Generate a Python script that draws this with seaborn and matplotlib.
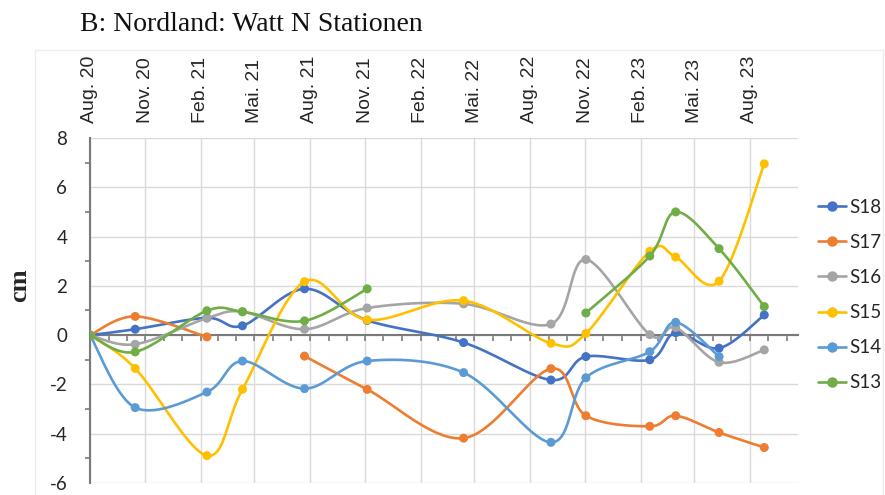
import numpy as np
import pandas as pd
import matplotlib
matplotlib.use("Agg")
import matplotlib.pyplot as plt
import matplotlib.dates as mdates
from matplotlib.lines import Line2D
from matplotlib.patches import Rectangle
from matplotlib.ticker import MultipleLocator
import seaborn as sns

# --- data ---
dates = ["2020-08-01", "2020-10-15", "2021-02-11", "2021-04-11", "2021-07-23",
         "2021-11-04", "2022-04-13", "2022-09-05", "2022-11-02", "2023-02-16",
         "2023-03-31", "2023-06-11", "2023-08-25"]
nan = np.nan
s18 = [0, 0.24, 0.70, 0.38, 1.88, 0.60, -0.30, -1.82, -0.87, -1.00, 0.10, -0.53, 0.82]
s17 = [0, 0.76, -0.07, nan, -0.85, -2.20, -4.18, -1.36, -3.27, -3.70, -3.27, -3.95, -4.56]
s16 = [0, -0.37, 0.69, 0.95, 0.24, 1.10, 1.27, 0.45, 3.07, 0.02, 0.31, -1.10, -0.60]
s15 = [0, -1.35, -4.89, -2.20, 2.17, 0.62, 1.40, -0.33, 0.07, 3.40, 3.17, 2.19, 6.95]
s14 = [0, -2.94, -2.31, -1.05, -2.17, -1.05, -1.52, -4.35, -1.73, -0.67, 0.52, -0.87, nan]
s13 = [0, -0.68, 0.99, 0.95, 0.58, 1.88, nan, nan, 0.90, 3.21, 5.00, 3.51, 1.16]

stations = ["S18", "S17", "S16", "S15", "S14", "S13"]
colors = ["#4472C4", "#ED7D31", "#A5A5A5", "#FFC000", "#5B9BD5", "#70AD47"]

tick_dates = ["2020-08-01", "2020-11-01", "2021-02-01", "2021-05-01", "2021-08-01",
              "2021-11-01", "2022-02-01", "2022-05-01", "2022-08-01", "2022-11-01",
              "2023-02-01", "2023-05-01", "2023-08-01"]
tick_labels = ["Aug. 20", "Nov. 20", "Feb. 21", "Mai. 21", "Aug. 21", "Nov. 21",
               "Feb. 22", "Mai. 22", "Aug. 22", "Nov. 22", "Feb. 23", "Mai. 23", "Aug. 23"]

df = pd.DataFrame({"date": pd.to_datetime(dates), "S18": s18, "S17": s17, "S16": s16,
                   "S15": s15, "S14": s14, "S13": s13})


def smooth(x, y, n=40):
    # Excel-like smoothed line: Bezier segments with Catmull-Rom control points
    pts = np.column_stack([x, y])
    out = []
    for i in range(len(pts) - 1):
        p0 = pts[i - 1] if i > 0 else pts[i]
        p1, p2 = pts[i], pts[i + 1]
        p3 = pts[i + 2] if i + 2 < len(pts) else pts[i + 1]
        c1 = p1 + (p2 - p0) / 6
        c2 = p2 - (p3 - p1) / 6
        t = np.linspace(0, 1, n)[:, None]
        out.append((1 - t) ** 3 * p1 + 3 * (1 - t) ** 2 * t * c1
                   + 3 * (1 - t) * t ** 2 * c2 + t ** 3 * p2)
    return np.vstack(out)


sns.set_style("white")
plt.rcParams["axes.unicode_minus"] = False
fig = plt.figure(figsize=(8.85, 4.95), dpi=100)
ax = fig.add_axes([90 / 885, 1 - 483 / 495, 708 / 885, 345 / 495])

xnum = mdates.date2num(df["date"])
for k, (st, col) in enumerate(zip(stations, colors)):
    y = df[st].to_numpy(dtype=float)
    ok = ~np.isnan(y)
    # split into runs without gaps
    idx = np.where(ok)[0]
    runs = np.split(idx, np.where(np.diff(idx) > 1)[0] + 1)
    for r in runs:
        if len(r) > 1:
            curve = smooth(xnum[r], y[r])
            ax.plot(curve[:, 0], curve[:, 1], color=col, lw=1.9, zorder=3 + k,
                    solid_capstyle="round")
    sns.scatterplot(data=df[ok], x="date", y=st, color=col, s=42, edgecolor="none",
                    ax=ax, zorder=3 + k, legend=False)

grid_c = "#d9d9d9"
axis_c = "#7a7a7a"
ax.set_ylim(-6, 8)
ax.set_xlim(mdates.date2num(pd.Timestamp("2020-08-01")),
            mdates.date2num(pd.Timestamp("2023-10-20")))
ax.yaxis.set_major_locator(MultipleLocator(2))
ax.yaxis.set_minor_locator(MultipleLocator(1))
ax.set_xticks(mdates.date2num(pd.to_datetime(tick_dates)))
ax.set_xticklabels(tick_labels)
ax.xaxis.set_minor_locator(mdates.MonthLocator())

ax.grid(True, which="major", color=grid_c, lw=1.0, zorder=0)
ax.set_axisbelow(True)

for s in ["top", "right"]:
    ax.spines[s].set_visible(False)
ax.spines["bottom"].set_position(("data", 0))
ax.spines["bottom"].set_color(axis_c)
ax.spines["bottom"].set_linewidth(1.5)
ax.spines["bottom"].set_zorder(2)
ax.spines["left"].set_color(axis_c)
ax.spines["left"].set_linewidth(1.5)

ax.tick_params(axis="x", which="both", bottom=True, top=False, labelbottom=False,
               labeltop=True, direction="out", color=axis_c, width=1.2)
ax.tick_params(axis="x", which="major", length=4.5, pad=6.3, labelrotation=90,
               labelsize=14, labelcolor="#262626")
ax.tick_params(axis="x", which="minor", length=4.0)
for t in ax.xaxis.get_major_ticks():
    t.label2.set_family(["Liberation Sans", "DejaVu Sans"])
ax.tick_params(axis="y", which="major", length=5.8, width=1.2, color=axis_c,
               pad=10.5, labelsize=13.5, labelcolor="#262626")
ax.tick_params(axis="y", which="minor", left=True, length=3.6, width=1.2, color=axis_c)
for lab in ax.get_yticklabels():
    lab.set_family(["Lato", "DejaVu Sans"])

ax.set_xlabel("")
ax.set_ylabel("cm", fontsize=19, fontweight="bold", va="center",
              family=["Liberation Serif", "DejaVu Serif"])
ax.yaxis.set_label_coords((20 - 90) / 708, 1 - (285 - 138) / 345)

fig.text(80 / 885, 1 - 31 / 495, "B: Nordland: Watt N Stationen", fontsize=20,
         family=["Liberation Serif", "DejaVu Serif"], va="baseline", ha="left",
         color="#111111")

# faint chart border
fig.patches.append(Rectangle((35 / 885, -0.1), 848 / 885, 1.1 - 50 / 495,
                             transform=fig.transFigure, fill=False,
                             edgecolor="#ececec", lw=1.0))

handles = [Line2D([], [], color=c, marker="o", markersize=6.5, lw=1.9) for c in colors]
fig.legend(handles, stations, loc="center left", bbox_to_anchor=(818 / 885, 1 - 295 / 495),
           frameon=False, borderpad=0, borderaxespad=0, handlelength=1.5,
           handletextpad=0.15, labelspacing=0.97,
           prop={"family": ["Lato", "DejaVu Sans"], "size": 13.5})

fig.savefig("out.png", dpi=100)
